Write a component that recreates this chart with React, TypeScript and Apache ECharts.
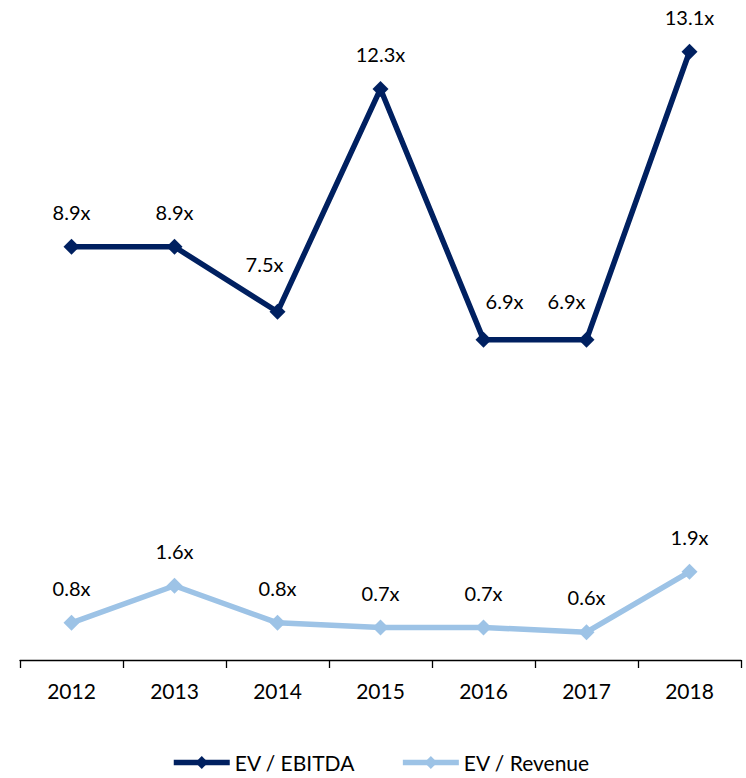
import { useEffect, useRef } from 'react';
import * as echarts from 'echarts';

const years = ['2012', '2013', '2014', '2015', '2016', '2017', '2018'];
const evEbitda = [8.9, 8.9, 7.5, 12.3, 6.9, 6.9, 13.1];
const evRevenue = [0.8, 1.6, 0.8, 0.7, 0.7, 0.6, 1.9];

// label nudges (px) to match the original layout
const ebitdaLabelOffsets: [number, number][] = [
  [0, 0], [0, 0], [-13, -13], [0, 0], [21, -4], [-20, -4], [0, 0]
];

const NAVY = '#002060';
const LIGHT = '#9dc3e6';
const FONT = 'Lato, "Open Sans", sans-serif';

const App = () => {
  const chartRef = useRef<HTMLDivElement>(null);

  useEffect(() => {
    if (!chartRef.current) return;
    const chart = echarts.init(chartRef.current, undefined, { renderer: 'svg' });

    const label = {
      show: true,
      position: 'top',
      distance: 17,
      fontSize: 20,
      fontFamily: FONT,
      color: '#000',
      formatter: (p: any) => p.value.toFixed(1) + 'x'
    };

    const option = {
      animation: false,
      textStyle: { fontFamily: FONT },
      grid: { left: 20, right: 5, top: 10, bottom: 118 },
      xAxis: {
        type: 'category',
        data: years,
        boundaryGap: true,
        axisLine: { lineStyle: { color: '#000', width: 1.3 } },
        axisTick: { show: true, length: 8, lineStyle: { color: '#000', width: 1.3 } },
        axisLabel: { fontSize: 21, color: '#000', margin: 20, fontFamily: FONT }
      },
      yAxis: {
        type: 'value',
        min: 0,
        max: 14,
        show: false,
        splitLine: { show: false }
      },
      legend: {
        bottom: 0,
        left: 166,
        itemWidth: 56,
        itemHeight: 16,
        itemGap: 45,
        textStyle: { fontSize: 21, color: '#000', fontFamily: FONT },
        data: [
          { name: 'EV / EBITDA', lineStyle: { width: 5.5 } },
          { name: 'EV / Revenue', lineStyle: { width: 5.5 } }
        ]
      },
      series: [
        {
          name: 'EV / EBITDA',
          type: 'line',
          symbol: 'diamond',
          symbolSize: 16,
          lineStyle: { color: NAVY, width: 5.5 },
          itemStyle: { color: NAVY },
          data: evEbitda.map((v, i) => ({
            value: v,
            label: { offset: ebitdaLabelOffsets[i] }
          })),
          label
        },
        {
          name: 'EV / Revenue',
          type: 'line',
          symbol: 'diamond',
          symbolSize: 16,
          lineStyle: { color: LIGHT, width: 5.5 },
          itemStyle: { color: LIGHT },
          data: evRevenue,
          label
        }
      ]
    };

    chart.setOption(option as any);
    return () => chart.dispose();
  }, []);

  return (
    <div
      ref={chartRef}
      style={{ position: 'fixed', left: 0, top: 0, width: 746, height: 778, background: '#fff' }}
    />
  );
};

export default App;
